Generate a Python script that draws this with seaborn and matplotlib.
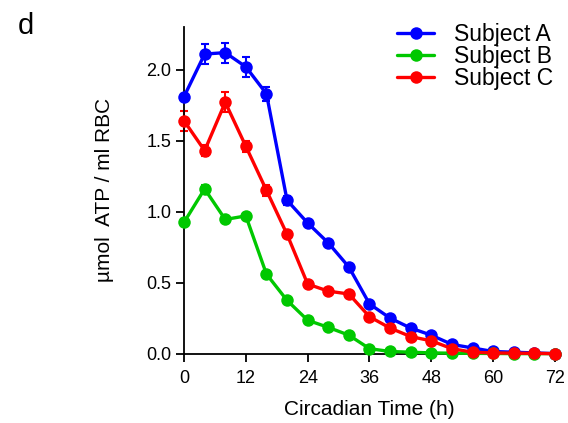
import numpy as np
import pandas as pd
import matplotlib
matplotlib.use("Agg")
import matplotlib.pyplot as plt
import seaborn as sns

time_h = [0, 4, 8, 12, 16, 20, 24, 28, 32, 36, 40, 44, 48, 52, 56, 60, 64, 68, 72]
subject_a = [1.81, 2.11, 2.12, 2.02, 1.83, 1.08, 0.92, 0.78, 0.61, 0.35, 0.25, 0.18, 0.13, 0.065, 0.04, 0.015, 0.01, 0.005, 0.0]
subject_b = [0.925, 1.16, 0.945, 0.97, 0.56, 0.375, 0.235, 0.185, 0.13, 0.035, 0.015, 0.01, 0.005, 0.003, 0.002, 0.001, 0.0, 0.0, 0.0]
subject_c = [1.64, 1.43, 1.77, 1.46, 1.15, 0.84, 0.49, 0.44, 0.42, 0.26, 0.18, 0.12, 0.09, 0.035, 0.01, 0.005, 0.003, 0.002, 0.0]
err_a = [0.02, 0.07, 0.07, 0.07, 0.05, 0.03, 0.02, 0.02, 0.02, 0.02, 0.01, 0.01, 0.01, 0.01, 0.01, 0.0, 0.0, 0.0, 0.0]
err_b = [0.02, 0.03, 0.02, 0.02, 0.02, 0.01, 0.01, 0.01, 0.01, 0.01, 0.0, 0.0, 0.0, 0.0, 0.0, 0.0, 0.0, 0.0, 0.0]
err_c = [0.07, 0.04, 0.07, 0.04, 0.04, 0.02, 0.02, 0.02, 0.02, 0.02, 0.01, 0.01, 0.01, 0.01, 0.0, 0.0, 0.0, 0.0, 0.0]
subjects = ["Subject A", "Subject B", "Subject C"]
colors = ["#0000FF", "#00C800", "#FF0000"]
x_ticks = [0, 12, 24, 36, 48, 60, 72]
y_ticks = [0.0, 0.5, 1.0, 1.5, 2.0]

sns.set_theme(style="ticks")
plt.rcParams["font.family"] = ["Liberation Sans", "DejaVu Sans"]
plt.rcParams["text.color"] = "black"
plt.rcParams["axes.labelcolor"] = "black"
plt.rcParams["xtick.color"] = "black"
plt.rcParams["ytick.color"] = "black"

series = {"Subject A": (subject_a, err_a), "Subject B": (subject_b, err_b), "Subject C": (subject_c, err_c)}
rows = []
for s in subjects:
    vals, errs = series[s]
    for t, v, e in zip(time_h, vals, errs):
        rows.append({"time": t, "value": v, "err": e, "subject": s})
df = pd.DataFrame(rows)

fig = plt.figure(figsize=(5.68, 4.23), dpi=100)
ax = fig.add_axes([0.324, 0.164, 0.653, 0.772])

palette = dict(zip(subjects, colors))
for s in subjects:
    d = df[df.subject == s]
    ax.errorbar(d["time"], d["value"], yerr=d["err"], fmt="none", ecolor=palette[s],
                elinewidth=1.5, capsize=3, capthick=1.5, zorder=2, clip_on=False)

sns.lineplot(data=df, x="time", y="value", hue="subject", hue_order=subjects, palette=palette,
             marker="o", markersize=9, markeredgewidth=0, linewidth=2.4, ax=ax,
             estimator=None, errorbar=None, zorder=3, clip_on=False)

ax.set_xlim(0, 72)
ax.set_ylim(0, 2.3)
ax.set_xticks(x_ticks)
ax.set_yticks(y_ticks)
ax.set_yticklabels([f"{v:.1f}" for v in y_ticks])
ax.spines["top"].set_visible(False)
ax.spines["right"].set_visible(False)
for sp in ["left", "bottom"]:
    ax.spines[sp].set_linewidth(1.3)
    ax.spines[sp].set_color("black")
ax.tick_params(axis="both", direction="out", length=6, width=1.3, labelsize=13, colors="black")
ax.tick_params(axis="x", pad=6)
ax.tick_params(axis="y", pad=3)
ax.set_xlabel("Circadian Time (h)", fontsize=15, labelpad=9)
ax.set_ylabel("µmol  ATP / ml RBC", fontsize=15, labelpad=23)

leg = ax.legend(loc="upper right", bbox_to_anchor=(1.02, 1.04), frameon=False, fontsize=16.5,
                handlelength=1.6, handletextpad=0.87, labelspacing=-0.05, borderaxespad=0)

fig.text(0.032, 0.938, "d", fontsize=21, ha="left", va="center")

fig.savefig("out.png", dpi=100)
